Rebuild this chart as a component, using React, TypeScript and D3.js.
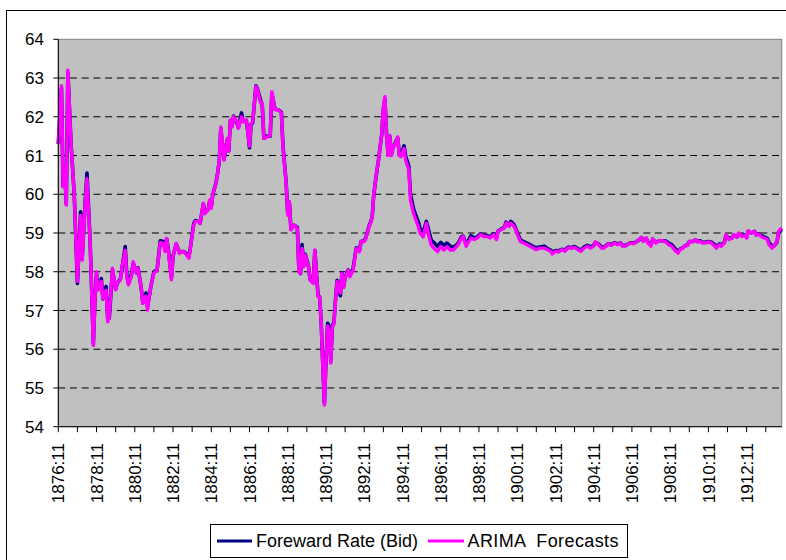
import * as d3 from 'd3';

// month offsets counted from 1876:11 (monthly category axis, last point 1914:09)
const months = [
  0, 2, 3, 4, 5, 6, 8, 10, 12, 13, 14, 15, 17, 18, 20, 22, 23, 24, 25, 27, 28, 30, 31, 32, 34, 36, 37, 39, 40, 42,
  43, 44, 46, 47, 49, 50, 52, 53, 55, 56, 58, 60, 62, 64, 66, 67, 68, 69, 71, 72, 74, 76, 77, 79, 82, 83, 85, 86, 88, 89,
  91, 92, 94, 95, 96, 97, 99, 100, 101, 102, 104, 105, 106, 107, 108, 109, 110, 112, 113, 115, 116, 118, 119, 120, 121, 122, 124, 125, 127, 128,
  129, 131, 133, 134, 136, 138, 140, 141, 143, 144, 145, 146, 148, 150, 151, 152, 153, 154, 155, 157, 158, 160, 161, 163, 164, 165, 166, 167, 168, 169,
  170, 171, 172, 173, 174, 175, 177, 178, 179, 180, 182, 183, 185, 187, 189, 190, 192, 193, 195, 196, 197, 198, 200, 201, 203, 204, 205, 206, 207, 208,
  209, 210, 212, 213, 214, 215, 217, 218, 220, 221, 223, 224, 226, 227, 229, 231, 232, 234, 236, 238, 240, 242, 244, 246, 248, 249, 251, 253, 254, 256,
  257, 259, 261, 263, 265, 267, 269, 271, 273, 275, 276, 278, 280, 281, 283, 284, 286, 287, 289, 290, 292, 294, 296, 298, 300, 302, 305, 307, 309, 310,
  312, 314, 316, 318, 320, 322, 324, 326, 328, 330, 332, 334, 336, 337, 339, 341, 342, 344, 345, 347, 349, 351, 353, 354, 356, 357, 359, 361, 363, 365,
  366, 367, 369, 370, 372, 373, 375, 377, 379, 381, 383, 385, 387, 389, 390, 392, 393, 395, 396, 398, 400, 401, 403, 404, 406, 408, 410, 412, 413, 415,
  416, 418, 419, 421, 423, 424, 426, 427, 429, 431, 432, 433, 435, 437, 438, 440, 441, 443, 445, 446, 448, 449, 451, 452, 454,
];

const forewardRate = [
  61.3, 62.75, 60.2, 60.7, 59.75, 63.15, 61.3, 60.0, 57.7, 58.6, 59.55, 58.35, 59.9, 60.55, 58.75, 56.15, 57.3, 57.95, 57.55, 57.82, 57.3, 57.62, 56.8, 56.8, 58.05, 57.55, 57.7, 57.82, 58.1, 58.65,
  57.9, 57.7, 57.95, 58.22, 58.0, 58.1, 57.6, 57.2, 57.45, 57.1, 57.6, 58.0, 58.05, 58.8, 58.78, 58.6, 58.85, 58.6, 57.85, 58.4, 58.72, 58.5, 58.52, 58.52, 58.4, 58.65, 59.25, 59.32, 59.3, 59.25,
  59.75, 59.55, 59.6, 59.82, 59.68, 60.0, 60.3, 60.55, 60.85, 61.7, 60.9, 61.15, 61.4, 61.12, 61.9, 61.75, 62.02, 61.85, 61.72, 62.1, 61.88, 61.9, 61.6, 61.2, 61.8, 61.85, 62.8, 62.72, 62.42, 62.3,
  61.45, 61.5, 61.5, 62.6, 62.2, 62.18, 62.12, 61.25, 60.3, 59.5, 59.8, 59.1, 59.2, 59.15, 58.05, 57.95, 58.7, 58.15, 58.45, 58.15, 57.8, 57.72, 58.55, 57.4, 57.35, 56.7, 55.6, 54.6, 55.7, 56.67,
  56.6, 55.7, 56.6, 56.7, 57.3, 57.78, 57.38, 57.98, 57.6, 57.85, 58.05, 57.9, 58.08, 58.62, 58.55, 58.78, 58.8, 58.88, 59.18, 59.28, 59.42, 60.0, 60.62, 60.9, 61.55, 62.2, 62.45, 61.55, 61.05, 61.5,
  61.02, 61.2, 61.38, 61.45, 61.05, 61.02, 61.25, 60.98, 60.72, 60.0, 59.62, 59.5, 59.28, 59.12, 59.02, 59.3, 59.15, 58.82, 58.74, 58.66, 58.76, 58.68, 58.74, 58.66, 58.64, 58.66, 58.74, 58.9, 58.92, 58.72,
  58.78, 58.93, 58.87, 58.9, 58.98, 58.94, 58.94, 58.9, 58.98, 58.88, 59.05, 59.1, 59.15, 59.28, 59.2, 59.3, 59.22, 59.12, 58.92, 58.82, 58.78, 58.74, 58.7, 58.65, 58.62, 58.64, 58.66, 58.6, 58.56, 58.5,
  58.55, 58.54, 58.58, 58.56, 58.64, 58.62, 58.65, 58.6, 58.56, 58.64, 58.68, 58.64, 58.68, 58.76, 58.72, 58.64, 58.62, 58.68, 58.72, 58.7, 58.75, 58.72, 58.74, 58.68, 58.68, 58.7, 58.75, 58.74, 58.78, 58.84,
  58.88, 58.8, 58.86, 58.76, 58.7, 58.84, 58.76, 58.8, 58.8, 58.8, 58.74, 58.7, 58.6, 58.52, 58.58, 58.62, 58.66, 58.7, 58.78, 58.78, 58.82, 58.78, 58.8, 58.76, 58.76, 58.78, 58.76, 58.7, 58.65, 58.72,
  58.68, 58.76, 58.94, 58.86, 58.88, 58.95, 58.9, 58.98, 58.93, 58.95, 58.9, 59.04, 59.0, 59.04, 58.96, 58.98, 58.94, 58.9, 58.86, 58.76, 58.66, 58.66, 58.76, 59.0, 59.1,
];

const arimaForecasts = [
  61.3, 62.8, 60.2, 60.7, 59.72, 63.2, 61.3, 60.0, 57.75, 58.56, 59.45, 58.3, 59.85, 60.4, 58.73, 56.1, 57.27, 58.0, 57.53, 57.75, 57.31, 57.52, 56.71, 56.84, 58.09, 57.53, 57.7, 57.79, 58.13, 58.55,
  57.87, 57.66, 57.9, 58.26, 57.96, 58.09, 57.61, 57.18, 57.37, 57.01, 57.61, 57.96, 58.04, 58.75, 58.73, 58.52, 58.86, 58.56, 57.79, 58.39, 58.73, 58.47, 58.52, 58.52, 58.35, 58.65, 59.21, 59.3, 59.3, 59.25,
  59.77, 59.5, 59.6, 59.85, 59.64, 60.02, 60.28, 60.54, 60.88, 61.74, 60.88, 61.14, 61.44, 61.1, 61.92, 61.74, 62.0, 61.87, 61.7, 62.0, 61.87, 61.92, 61.61, 61.24, 61.83, 61.87, 62.78, 62.7, 62.35, 62.35,
  61.44, 61.48, 61.52, 62.65, 62.18, 62.18, 62.1, 61.23, 60.28, 59.46, 59.81, 59.08, 59.21, 59.12, 58.0, 57.96, 58.6, 58.13, 58.43, 58.13, 57.79, 57.7, 58.56, 57.36, 57.36, 56.67, 55.55, 54.56, 55.72, 56.6,
  56.41, 55.64, 56.6, 56.64, 57.27, 57.75, 57.45, 57.96, 57.6, 57.83, 58.04, 57.87, 58.04, 58.6, 58.52, 58.78, 58.78, 58.86, 59.16, 59.25, 59.42, 60.02, 60.63, 60.88, 61.57, 62.26, 62.52, 61.48, 61.0, 61.52,
  61.0, 61.18, 61.36, 61.48, 61.0, 60.97, 61.18, 60.88, 60.63, 59.85, 59.5, 59.38, 59.16, 59.0, 58.9, 59.25, 59.03, 58.69, 58.6, 58.52, 58.65, 58.56, 58.65, 58.56, 58.56, 58.61, 58.7, 58.87, 58.91, 58.66,
  58.74, 58.87, 58.83, 58.87, 58.96, 58.91, 58.91, 58.87, 58.96, 58.83, 59.04, 59.09, 59.13, 59.26, 59.17, 59.26, 59.17, 59.09, 58.87, 58.78, 58.74, 58.7, 58.66, 58.61, 58.57, 58.61, 58.61, 58.57, 58.53, 58.46,
  58.53, 58.51, 58.57, 58.53, 58.62, 58.61, 58.63, 58.57, 58.53, 58.61, 58.66, 58.61, 58.66, 58.77, 58.7, 58.61, 58.61, 58.66, 58.72, 58.68, 58.74, 58.7, 58.74, 58.66, 58.66, 58.7, 58.74, 58.72, 58.78, 58.85,
  58.89, 58.78, 58.87, 58.74, 58.66, 58.85, 58.74, 58.8, 58.8, 58.78, 58.7, 58.66, 58.55, 58.48, 58.57, 58.61, 58.66, 58.68, 58.78, 58.77, 58.83, 58.77, 58.78, 58.74, 58.74, 58.77, 58.74, 58.66, 58.61, 58.7,
  58.66, 58.74, 58.96, 58.83, 58.87, 58.96, 58.89, 59.0, 58.91, 58.94, 58.87, 59.06, 59.0, 59.04, 58.94, 58.97, 58.91, 58.87, 58.83, 58.7, 58.61, 58.66, 58.78, 59.04, 59.13,
];

const xTickLabels = [
  '1876:11', '1878:11', '1880:11', '1882:11', '1884:11', '1886:11', '1888:11', '1890:11', '1892:11', '1894:11',
  '1896:11', '1898:11', '1900:11', '1902:11', '1904:11', '1906:11', '1908:11', '1910:11', '1912:11',
];
const yTicks = [54, 55, 56, 57, 58, 59, 60, 61, 62, 63, 64];
const lastMonth = 454;

const W = 786;
const H = 560;
const plot = { left: 58.3, top: 39.3, right: 781.7, bottom: 426.7 };
const font = '"Liberation Sans", Arial, sans-serif';

export default function App() {
  const x = d3.scaleLinear().domain([0, lastMonth]).range([plot.left, plot.right]);
  const y = d3.scaleLinear().domain([54, 64]).range([plot.bottom, plot.top]);

  const line = (vals: number[]) =>
    d3.line<number>()
      .x((_, i) => x(months[i]))
      .y(d => y(d))(vals) ?? '';

  // a tick every year, a label every second year
  const yearTicks = d3.range(0, lastMonth + 1, 12);

  return (
    <svg width={W} height={H} style={{ position: 'absolute', left: 0, top: 0, background: '#fff' }} fontFamily={font}>
      <rect x={6.5} y={10.5} width={W + 20} height={H + 20} fill="#fff" stroke="#000" />

      <rect x={plot.left} y={plot.top} width={plot.right - plot.left} height={plot.bottom - plot.top}
        fill="#c0c0c0" stroke="#808080" />

      {yTicks.slice(1, -1).map(t => (
        <line key={t} x1={plot.left} x2={plot.right} y1={y(t)} y2={y(t)}
          stroke="#000" strokeDasharray="7,4.7" />
      ))}

      <path d={line(forewardRate)} fill="none" stroke="#000080" strokeWidth={3.6} strokeLinejoin="round" />
      <path d={line(arimaForecasts)} fill="none" stroke="#ff00ff" strokeWidth={3.4} strokeLinejoin="round" />

      {/* axes */}
      <line x1={plot.left} x2={plot.left} y1={plot.top} y2={plot.bottom + 0.5} stroke="#000" />
      <line x1={plot.left} x2={plot.right} y1={plot.bottom} y2={plot.bottom} stroke="#000" />

      {yTicks.map(t => (
        <g key={t}>
          <line x1={plot.left - 5} x2={plot.left} y1={y(t)} y2={y(t)} stroke="#000" />
          <text x={44} y={y(t)} dy="0.36em" textAnchor="end" fontSize={17}>{t}</text>
        </g>
      ))}

      {yearTicks.map(m => (
        <line key={m} x1={x(m)} x2={x(m)} y1={plot.bottom} y2={plot.bottom + 5.5} stroke="#000" />
      ))}
      {xTickLabels.map((lab, i) => (
        <text key={lab} transform={`translate(${x(i * 24)},443) rotate(-90)`} dy="0.36em"
          textAnchor="end" fontSize={17}>{lab}</text>
      ))}

      {/* legend */}
      <rect x={210.5} y={524.5} width={417} height={33} fill="#fff" stroke="#000" />
      <line x1={217} x2={252} y1={541} y2={541} stroke="#000080" strokeWidth={3} />
      <text x={256} y={547} fontSize={18}>Foreward Rate (Bid)</text>
      <line x1={428} x2={464} y1={541} y2={541} stroke="#ff00ff" strokeWidth={3} />
      <text x={467.5} y={547} fontSize={18} textLength={151} style={{ whiteSpace: 'pre' }}>ARIMA  Forecasts</text>
    </svg>
  );
}
